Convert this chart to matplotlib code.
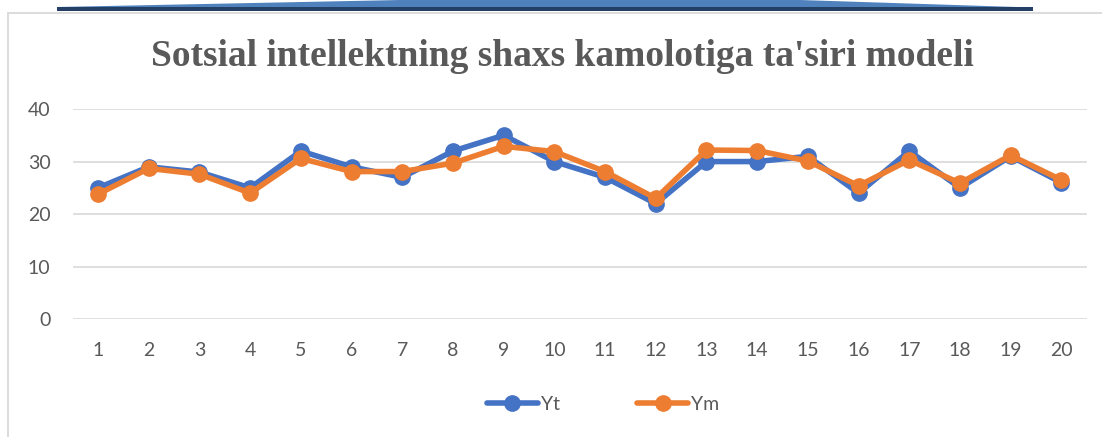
import numpy as np
import matplotlib
matplotlib.use("Agg")
import matplotlib.pyplot as plt
from matplotlib.patches import Polygon
from matplotlib.lines import Line2D

# data
categories = [str(i) for i in range(1, 21)]
yt_values = [25, 29, 28, 25, 32, 29, 27, 32, 35, 30, 27, 22, 30, 30, 31, 24, 32, 25, 31, 26]
ym_values = [23.8, 28.7, 27.6, 24.0, 30.6, 28.1, 28.1, 29.7, 32.9, 31.9,
             28.1, 23.0, 32.2, 32.1, 30.1, 25.4, 30.3, 25.9, 31.2, 26.5]
y_ticks = [0, 10, 20, 30, 40]

W, H = 1102, 437
fig = plt.figure(figsize=(W / 100, H / 100), dpi=100)

# outer frame (cropped on the right and bottom)
fig.add_artist(Line2D([8 / W, 8 / W], [0, 1 - 13 / H], transform=fig.transFigure,
                      color='#D9D9D9', lw=1.3))
fig.add_artist(Line2D([8 / W, 1], [1 - 13 / H, 1 - 13 / H], transform=fig.transFigure,
                      color='#D9D9D9', lw=1.3))

# blue decoration at the top edge
def fp(x, y):
    return (x / W, 1 - y / H)

band = Polygon([fp(57, 7), fp(400, 0), fp(800, 0), fp(1017, 7)], closed=True,
               transform=fig.transFigure, facecolor='#4F81BD', edgecolor='none')
fig.add_artist(band)
base = Polygon([fp(57, 7), fp(1033, 7), fp(1033, 10.5), fp(57, 10.5)], closed=True,
               transform=fig.transFigure, facecolor='#243F66', edgecolor='none')
fig.add_artist(base)

ax = fig.add_axes([72.7 / W, 1 - 319.3 / H, (1086.7 - 72.7) / W, (319.3 - 109) / H])

x = np.arange(len(categories))
ax.plot(x, yt_values, color='#4472C4', lw=4, marker='o', ms=11, label='Yt',
        solid_capstyle='round', zorder=3)
ax.plot(x, ym_values, color='#ED7D31', lw=4, marker='o', ms=11, label='Ym',
        solid_capstyle='round', zorder=4)

ax.set_xlim(-0.5, len(categories) - 0.5)
ax.set_ylim(0, 40)
ax.set_yticks(y_ticks)
ax.set_xticks(x)
ax.set_xticklabels(categories)
ax.grid(axis='y', color='#D9D9D9', lw=1.2)
ax.set_axisbelow(True)
for s in ax.spines.values():
    s.set_visible(False)
ax.tick_params(length=0, labelsize=14, labelcolor='#595959')
ax.tick_params(axis='x', pad=16)
ax.tick_params(axis='y', pad=16)
for lab in ax.get_xticklabels() + ax.get_yticklabels():
    lab.set_family('Lato')

fig.text(562 / W, 1 - 56 / H, "Sotsial intellektning shaxs kamolotiga ta'siri modeli",
         ha='center', va='center', family='Liberation Serif', weight='bold',
         fontsize=27, color='#595959')

leg = fig.legend(loc='center', bbox_to_anchor=(603 / W, 1 - 404 / H), ncol=2,
                 frameon=False, prop={'family': 'Lato', 'size': 14},
                 handlelength=2.6, columnspacing=4.0, handletextpad=0.15)
for t in leg.get_texts():
    t.set_color('#595959')

fig.savefig('out.png', dpi=100)
